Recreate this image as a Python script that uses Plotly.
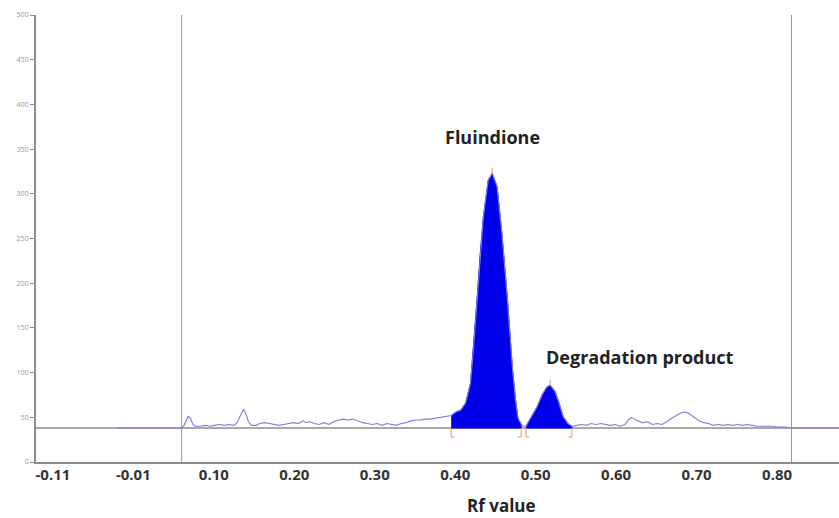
import plotly.graph_objects as go

# ---------------- data ----------------
baseline_level = 38
track_start, track_end = 0.055, 0.813
x_min, x_max = -0.126, 0.872

rf = [-0.025, 0.055, 0.058, 0.061, 0.063, 0.066, 0.069, 0.072, 0.078, 0.085, 0.090,
      0.096, 0.102, 0.108, 0.114, 0.120, 0.124, 0.128, 0.132, 0.135, 0.138,
      0.142, 0.148, 0.152, 0.158, 0.164, 0.170, 0.176, 0.182, 0.188, 0.194,
      0.200, 0.206, 0.210, 0.214, 0.220, 0.226, 0.232, 0.238, 0.244, 0.250,
      0.256, 0.262, 0.268, 0.274, 0.280, 0.286, 0.292, 0.298, 0.304, 0.310,
      0.316, 0.322, 0.328, 0.334, 0.340, 0.346, 0.352, 0.358, 0.364, 0.370,
      0.376, 0.382, 0.390, 0.396, 0.402, 0.408, 0.414, 0.418, 0.422, 0.426,
      0.430, 0.436, 0.441, 0.447, 0.453, 0.460, 0.466, 0.470, 0.473, 0.477,
      0.480, 0.483, 0.487, 0.491, 0.497, 0.503, 0.509, 0.513, 0.519, 0.524,
      0.529, 0.535, 0.540, 0.546, 0.552, 0.558, 0.564, 0.570, 0.576, 0.582,
      0.588, 0.594, 0.600, 0.606, 0.610, 0.614, 0.618, 0.622, 0.628, 0.634,
      0.640, 0.646, 0.652, 0.658, 0.664, 0.670, 0.676, 0.681, 0.686, 0.692,
      0.698, 0.704, 0.710, 0.716, 0.722, 0.728, 0.734, 0.740, 0.746, 0.752,
      0.758, 0.764, 0.770, 0.776, 0.782, 0.788, 0.795, 0.805, 0.813, 0.872]

intensity = [38, 38, 41, 48, 51, 49, 42, 40, 40, 41, 40,
             41, 42, 41, 42, 41, 44, 52, 59, 54, 45,
             41, 41, 43, 44, 43, 42, 41, 42, 43, 44,
             43, 46, 44, 45, 43, 42, 44, 42, 45, 47,
             48, 47, 48, 46, 44, 43, 42, 43, 41, 43,
             42, 41, 43, 44, 46, 47, 47, 48, 48, 49,
             50, 51, 52, 56, 58, 66, 88, 130, 181, 232,
             274, 315, 323, 308, 256, 181, 106, 69, 49, 42,
             40, 40, 46, 52, 62, 75, 84, 86, 79, 66,
             51, 43, 40, 41, 42, 41, 43, 42, 43, 42,
             41, 42, 40, 42, 47, 50, 48, 46, 44, 45,
             42, 43, 42, 45, 49, 52, 55, 56, 54, 50,
             46, 44, 43, 41, 42, 41, 42, 41, 42, 41,
             42, 41, 40, 40, 40, 40, 39, 39, 38, 38]

peak_names = ["Fluindione", "Degradation product"]
peak_bounds = [(0.390, 0.477), (0.483, 0.540)]
peak_apex = [(0.441, 323), (0.513, 86)]
label_pos = [(0.441, 364), (0.625, 117)]

tick_vals = [-0.105, -0.005, 0.095, 0.195, 0.295, 0.395, 0.495, 0.595, 0.695, 0.795]
tick_text = ["-0.11", "-0.01", "0.10", "0.20", "0.30", "0.40", "0.50", "0.60", "0.70", "0.80"]
y_ticks = [0, 50, 100, 150, 200, 250, 300, 350, 400, 450, 500]

# ---------------- figure ----------------
fig = go.Figure()

# gray baseline across the whole plate
fig.add_trace(go.Scatter(x=[x_min, x_max], y=[baseline_level, baseline_level],
                         mode="lines", line=dict(color="#8c8c8c", width=1.5),
                         hoverinfo="skip", showlegend=False))

# filled peak areas
for (a, b) in peak_bounds:
    px = [x for x in rf if a <= x <= b]
    py = [y for x, y in zip(rf, intensity) if a <= x <= b]
    poly_x = px + [b, a]
    poly_y = py + [baseline_level, baseline_level]
    fig.add_trace(go.Scatter(x=poly_x, y=poly_y, mode="lines", fill="toself",
                             fillcolor="rgb(0,0,235)", line=dict(color="rgb(0,0,235)", width=1),
                             hoverinfo="skip", showlegend=False))

# signal trace
fig.add_trace(go.Scatter(x=rf, y=intensity, mode="lines",
                         line=dict(color="rgb(125,125,225)", width=1.1),
                         showlegend=False))

# orange integration brackets
bx, by = [], []
depth = 10
foot = 0.004
for (a, b) in peak_bounds:
    bx += [a + foot, a, a, None, b - foot, b, b, None]
    by += [baseline_level - depth, baseline_level - depth, baseline_level, None,
           baseline_level - depth, baseline_level - depth, baseline_level, None]
for (ax_, ay_) in peak_apex:
    bx += [ax_, ax_, None]
    by += [ay_, ay_ + 6, None]
fig.add_trace(go.Scatter(x=bx, y=by, mode="lines",
                         line=dict(color="rgb(235,150,90)", width=1),
                         hoverinfo="skip", showlegend=False))

# track start/end vertical lines
for xv in [track_start, track_end]:
    fig.add_shape(type="line", x0=xv, x1=xv, y0=0, y1=500, xref="x", yref="y",
                  line=dict(color="#8f9ca6", width=1))

# peak labels
for name, (lx, ly) in zip(peak_names, label_pos):
    fig.add_annotation(x=lx, y=ly, text="<b>" + name + "</b>", showarrow=False,
                       font=dict(family="Open Sans", size=18, color="#222222"),
                       xanchor="center", yanchor="middle")

fig.add_annotation(x=0.453, y=-0.098, xref="x", yref="paper", text="<b>Rf value</b>",
                   showarrow=False, font=dict(family="Open Sans", size=17, color="#222222"),
                   xanchor="center", yanchor="middle")

fig.update_layout(
    width=839, height=518,
    margin=dict(l=36, r=0, t=15, b=56),
    paper_bgcolor="white", plot_bgcolor="white",
    showlegend=False,
)
fig.update_xaxes(range=[x_min, x_max], tickvals=tick_vals, ticktext=tick_text,
                 showgrid=False, zeroline=False, showline=True, linecolor="#8c8c8c",
                 linewidth=2, ticks="",
                 tickfont=dict(family="Open Sans", size=15, color="#333333", weight="bold"),
                 ticklabelstandoff=-2)
fig.update_yaxes(range=[0, 500], tickvals=y_ticks, showgrid=False, zeroline=False,
                 showline=True, linecolor="#8c8c8c", linewidth=2, ticks="outside",
                 ticklen=4, tickcolor="#8c8c8c",
                 tickfont=dict(family="Open Sans", size=7, color="#999999"))

fig.write_html("out.html", config={"displayModeBar": False},
               post_script="document.body.style.margin='0';document.body.style.overflow='hidden';")
